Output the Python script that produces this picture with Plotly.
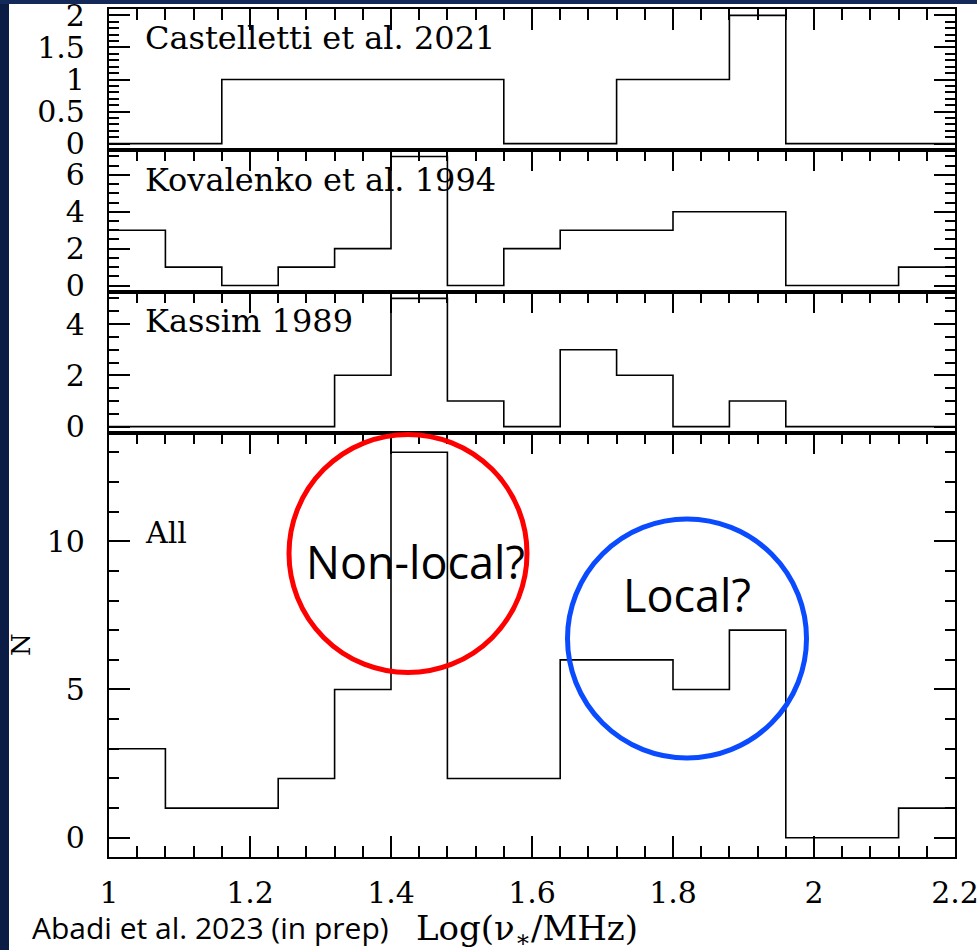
import plotly.graph_objects as go

# ---------------- data ----------------
bin_edges = [1.00, 1.08, 1.16, 1.24, 1.32, 1.40, 1.48, 1.56, 1.64, 1.72, 1.80, 1.88, 1.96, 2.04, 2.12, 2.20]
castelletti = [0, 0, 1, 1, 1, 1, 1, 0, 0, 1, 1, 2, 0, 0, 0]
kovalenko   = [3, 1, 0, 1, 2, 7, 0, 2, 3, 3, 4, 4, 0, 0, 1]
kassim      = [0, 0, 0, 0, 2, 5, 1, 0, 3, 2, 0, 1, 0, 0, 0]
all_counts  = [3, 1, 1, 2, 5, 13, 2, 2, 6, 6, 5, 7, 0, 0, 1]

panel_labels = ["Castelletti et al. 2021", "Kovalenko et al. 1994", "Kassim 1989", "All"]
panel_max = [2, 7, 5, 13]
y_major = [0.5, 2, 2, 5]
y_minor = [0.1, 0.5, 0.5, 1]
x_tick_vals = [1, 1.2, 1.4, 1.6, 1.8, 2, 2.2]
x_tick_text = ["1", "1.2", "1.4", "1.6", "1.8", "2", "2.2"]

# ---------------- layout geometry (pixels) ----------------
W, H = 977, 950
L, R, T, B = 109, 955, 9, 857
bounds = [9, 150, 292, 433, 857]  # panel top/bottom pixel rows


def px(xp):
    return (xp - L) / (R - L)


def py(yp):
    return (B - yp) / (B - T)


NAVY = "#0b1d45"
SERIF = "DejaVu Serif"
SANS = "Open Sans"

fig = go.Figure()
series = [castelletti, kovalenko, kassim, all_counts]
for i, s in enumerate(series):
    n = i + 1
    fig.add_trace(go.Scatter(
        x=bin_edges, y=list(s) + [s[-1]], mode="lines", line_shape="hv",
        line=dict(color="black", width=1.6), showlegend=False, hoverinfo="skip",
        xaxis="x" if n == 1 else f"x{n}", yaxis="y" if n == 1 else f"y{n}",
    ))

layout = dict(
    width=W, height=H,
    margin=dict(l=L, r=W - R, t=T, b=H - B, pad=0, autoexpand=False),
    paper_bgcolor="white", plot_bgcolor="white",
    showlegend=False,
)

for i in range(4):
    n = i + 1
    xa = "xaxis" if n == 1 else f"xaxis{n}"
    ya = "yaxis" if n == 1 else f"yaxis{n}"
    xname = "x" if n == 1 else f"x{n}"
    yname = "y" if n == 1 else f"y{n}"
    last = (n == 4)
    xcfg = dict(
        domain=[0, 1], anchor=yname, range=[1, 2.2],
        tickmode="array", tickvals=x_tick_vals, ticktext=x_tick_text,
        ticks="inside", ticklen=21, tickwidth=1.8, tickcolor="black",
        minor=dict(dtick=0.04, tick0=1, ticks="inside", ticklen=11, tickwidth=1.6, tickcolor="black"),
        showline=True, linecolor="black", linewidth=2.2,
        showgrid=False, zeroline=False, layer="above traces",
        tickfont=dict(family=SERIF, size=30, color="black"),
        ticklabeloverflow="allow", automargin=False,
    )
    if last:
        xcfg.update(mirror="ticks", side="bottom", showticklabels=True, ticklabelstandoff=8)
    else:
        xcfg.update(mirror=True, side="top", showticklabels=False)
    layout[xa] = xcfg

    top, bot = bounds[i], bounds[i + 1]
    m = panel_max[i]
    layout[ya] = dict(
        domain=[py(bot), py(top)], anchor=xname,
        range=[-0.05 * m, 1.05 * m],
        tickmode="linear", tick0=0, dtick=y_major[i],
        ticks="inside", ticklen=21, tickwidth=1.8, tickcolor="black",
        minor=dict(dtick=y_minor[i], tick0=0, ticks="inside", ticklen=10, tickwidth=1.6, tickcolor="black"),
        mirror="ticks", showline=True, linecolor="black", linewidth=2.2,
        showgrid=False, zeroline=False, layer="above traces",
        tickfont=dict(family=SERIF, size=30, color="black"),
        ticklabelstandoff=16, ticklabeloverflow="allow", automargin=False,
    )

fig.update_layout(**layout)

shapes = [
    # navy slide border strips
    dict(type="rect", xref="paper", yref="paper", x0=px(-5), x1=px(9), y0=py(960), y1=py(-5),
         fillcolor=NAVY, line=dict(width=0), layer="above"),
    dict(type="rect", xref="paper", yref="paper", x0=px(-5), x1=px(990), y0=py(4), y1=py(-5),
         fillcolor="#13295a", line=dict(width=0), layer="above"),
    # red circle
    dict(type="circle", xref="paper", yref="paper", x0=px(289), x1=px(527), y0=py(672.5), y1=py(434.5),
         line=dict(color="#ff0000", width=5)),
    # blue circle
    dict(type="circle", xref="paper", yref="paper", x0=px(567.5), x1=px(806.5), y0=py(758), y1=py(519),
         line=dict(color="#0a4bff", width=5)),
]
fig.update_layout(shapes=shapes)

label_y = [37.5, 179, 320, 531]
ann = []
for i, lab in enumerate(panel_labels):
    ann.append(dict(xref="paper", yref="paper", x=px(143), y=py(label_y[i] + 1), text=lab,
                    showarrow=False, xanchor="left", yanchor="middle",
                    font=dict(family=SERIF, size=30 if i == 3 else 32, color="black")))
ann += [
    dict(xref="paper", yref="paper", x=px(415.5), y=py(561), text="Non-local?", showarrow=False,
         xanchor="center", yanchor="middle", font=dict(family=SANS, size=45, color="black")),
    dict(xref="paper", yref="paper", x=px(686.5), y=py(594), text="Local?", showarrow=False,
         xanchor="center", yanchor="middle", font=dict(family=SANS, size=45, color="black")),
    dict(xref="paper", yref="paper", x=px(210), y=py(927), text="Abadi et al. 2023 (in prep)", showarrow=False,
         xanchor="center", yanchor="middle", font=dict(family=SANS, size=30, color="black")),
    dict(xref="paper", yref="paper", x=px(527), y=py(930), text="Log(ν<sub>∗</sub>/MHz)", showarrow=False,
         xanchor="center", yanchor="middle", font=dict(family=SERIF, size=34, color="black")),
    dict(xref="paper", yref="paper", x=px(21), y=py(645), text="N", showarrow=False, textangle=-90,
         xanchor="center", yanchor="middle", font=dict(family=SERIF, size=26, color="black")),
]
fig.update_layout(annotations=ann)

fig.write_html("out.html")
